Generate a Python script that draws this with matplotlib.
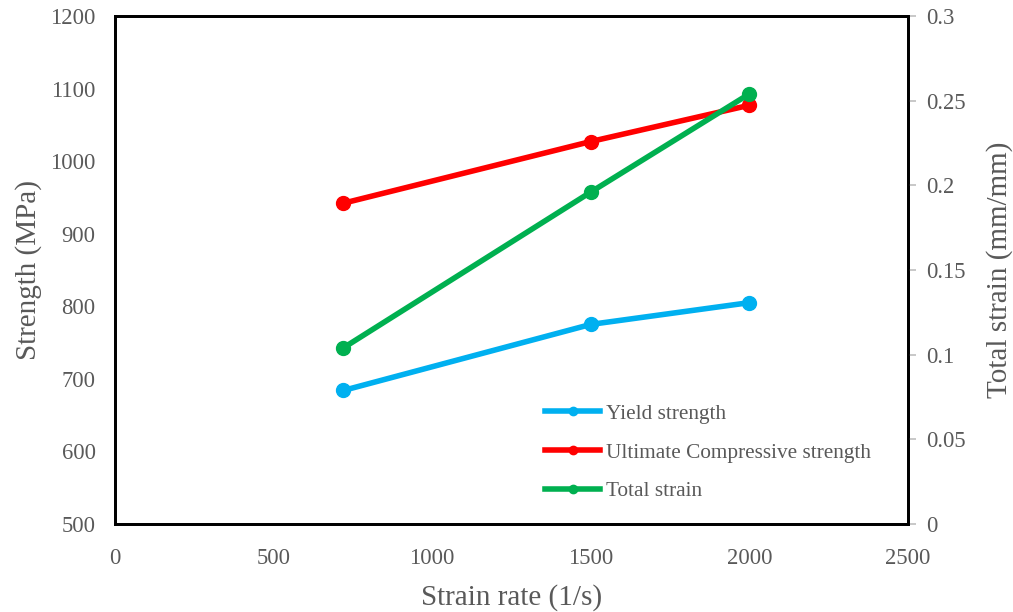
import matplotlib
matplotlib.use("Agg")
import matplotlib.pyplot as plt
from matplotlib.lines import Line2D

plt.rcParams['font.family'] = ['Liberation Serif', 'DejaVu Serif']

strain_rate = [720, 1500, 2000]
yield_strength = [684, 775, 805]
ucs = [942, 1027, 1077]
total_strain = [0.104, 0.196, 0.254]

xticks = [0, 500, 1000, 1500, 2000, 2500]
yticks = [500, 600, 700, 800, 900, 1000, 1100, 1200]
y2ticks = [0, 0.05, 0.1, 0.15, 0.2, 0.25, 0.3]
y2labels = ['0', '0.05', '0.1', '0.15', '0.2', '0.25', '0.3']

c_yield = '#00B0F0'
c_ucs = '#FF0000'
c_strain = '#00B050'
gray = '#595959'

fig = plt.figure(figsize=(10.13, 6.12), dpi=100)
ax = fig.add_axes([0.1135, 0.1438, 0.7828, 0.8301])
ax2 = ax.twinx()

lw = 4
ms = 10
ax.plot(strain_rate, yield_strength, color=c_yield, lw=lw, marker='o', ms=ms, solid_capstyle='round')
ax.plot(strain_rate, ucs, color=c_ucs, lw=lw, marker='o', ms=ms, solid_capstyle='round')
ax2.plot(strain_rate, total_strain, color=c_strain, lw=lw, marker='o', ms=ms, solid_capstyle='round')

ax.set_xlim(0, 2500)
ax.set_ylim(500, 1200)
ax2.set_ylim(0, 0.3)
ax.set_xticks(xticks)
ax.set_yticks(yticks)
ax2.set_yticks(y2ticks)
ax2.set_yticklabels(y2labels)

fs_tick = 16.3
ax.tick_params(axis='y', length=0, labelsize=fs_tick, colors=gray, pad=14)
ax.tick_params(axis='x', length=0, labelsize=fs_tick, colors=gray, pad=17)
ax2.tick_params(axis='y', length=6, width=1.2, color='#BFBFBF', labelsize=fs_tick, labelcolor=gray, pad=7)

for a in (ax, ax2):
    for s in a.spines.values():
        s.set_color('black')
        s.set_linewidth(2)

ax.set_xlabel('Strain rate (1/s)', fontsize=21, color=gray, labelpad=11)
ax.set_ylabel('Strength (MPa)', fontsize=21, color=gray, labelpad=6)
ax2.set_ylabel('Total strain (mm/mm)', fontsize=21, color=gray, labelpad=15)

handles = [Line2D([], [], color=c, lw=lw, marker='o', ms=6) for c in (c_yield, c_ucs, c_strain)]
labels = ['Yield strength', 'Ultimate Compressive strength', 'Total strain']
leg = ax.legend(handles, labels, loc='center left', bbox_to_anchor=(0.5422, 0.1405),
                frameon=False, fontsize=15.3, handlelength=2.6, handletextpad=0.28,
                labelspacing=0.885, labelcolor=gray, borderaxespad=0, borderpad=0)

fig.savefig('out.png', dpi=100)
